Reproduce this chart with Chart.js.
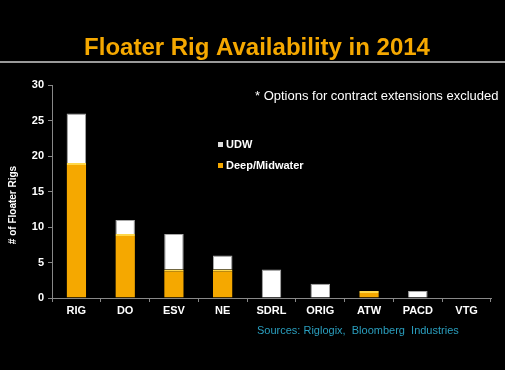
<!DOCTYPE html>
<html><head><meta charset="utf-8">
<script src="https://cdn.jsdelivr.net/npm/chart.js@4/dist/chart.umd.min.js"></script>
<style>
html,body{margin:0;padding:0;background:#fff;}
#wrap{position:absolute;left:0;top:0;width:505px;height:370px;background:#000;}
canvas{display:block;}
</style></head><body>
<div id="wrap"><canvas id="c" width="505" height="370"></canvas></div>
<script>
const categories = ['RIG','DO','ESV','NE','SDRL','ORIG','ATW','PACD','VTG'];
const deepMidwater = [19, 9, 4, 4, 0, 0, 1, 0, 0];
const udw = [7, 2, 5, 2, 4, 2, 0, 1, 0];
const yTicks = [0, 5, 10, 15, 20, 25, 30];

const FONT = '"Liberation Sans", Arial, sans-serif';
const ORANGE = '#F5A800';

const decor = {
  id: 'decor',
  afterDraw(chart) {
    const ctx = chart.ctx;
    ctx.save();
    // title
    ctx.fillStyle = ORANGE;
    ctx.font = 'bold 24px ' + FONT;
    ctx.textAlign = 'center';
    ctx.textBaseline = 'middle';
    ctx.fillText('Floater Rig Availability in 2014', 257, 48);
    // separator line
    ctx.fillStyle = '#9a9a9a';
    ctx.fillRect(0, 61, 505, 2);
    // footnote
    ctx.fillStyle = '#ffffff';
    ctx.font = '13px ' + FONT;
    ctx.textAlign = 'left';
    ctx.fillText('* Options for contract extensions excluded', 255, 96);
    // legend
    ctx.font = 'bold 11px ' + FONT;
    ctx.fillStyle = '#dddddd';
    ctx.fillRect(218, 142, 5, 5);
    ctx.fillStyle = '#ffffff';
    ctx.fillText('UDW', 226, 145);
    ctx.fillStyle = ORANGE;
    ctx.fillRect(218, 163, 5, 5);
    ctx.fillStyle = '#ffffff';
    ctx.fillText('Deep/Midwater', 226, 166);
    // sources
    ctx.fillStyle = '#2a9fbf';
    ctx.font = '11px ' + FONT;
    ctx.fillText('Sources: Riglogix,  Bloomberg  Industries', 257, 331);
    // y title
    ctx.translate(13, 205);
    ctx.rotate(-Math.PI / 2);
    ctx.textAlign = 'center';
    ctx.fillStyle = '#ffffff';
    ctx.font = 'bold 10px ' + FONT;
    ctx.fillText('# of Floater Rigs', 0, 0);
    ctx.restore();
  }
};

new Chart(document.getElementById('c'), {
  type: 'bar',
  data: {
    labels: categories,
    datasets: [
      { label: 'Deep/Midwater', data: deepMidwater, backgroundColor: ORANGE, borderColor: '#FFD84A', borderWidth: { top: 2, left: 0, right: 0, bottom: 0 }, borderSkipped: 'bottom', stack: 's' },
      { label: 'UDW', data: udw, backgroundColor: '#ffffff', borderColor: '#a8a8a8', borderWidth: 1, borderSkipped: 'bottom', stack: 's' }
    ]
  },
  options: {
    responsive: false,
    animation: false,
    devicePixelRatio: 1,
    layout: { padding: { left: 0, right: 14, top: 85, bottom: 0 } },
    plugins: { legend: { display: false }, tooltip: { enabled: false } },
    datasets: { bar: { barPercentage: 0.8, categoryPercentage: 0.5 } },
    scales: {
      x: {
        stacked: true,
        afterFit(s) { s.height = 72; },
        grid: { display: true, drawOnChartArea: false, offset: true, tickLength: 4, color: '#888' },
        border: { color: '#888' },
        ticks: { color: '#ffffff', font: { family: FONT, size: 11, weight: 'bold' }, padding: 2, maxRotation: 0 }
      },
      y: {
        stacked: true,
        min: 0, max: 30,
        afterFit(s) { s.width = 52; },
        afterBuildTicks(s) { s.ticks = yTicks.map(v => ({ value: v })); },
        grid: { display: true, drawOnChartArea: false, tickLength: 4, color: '#888' },
        border: { color: '#888' },
        ticks: { color: '#ffffff', font: { family: FONT, size: 11, weight: 'bold' }, padding: 4 }
      }
    }
  },
  plugins: [decor]
});
</script>
</body></html>
